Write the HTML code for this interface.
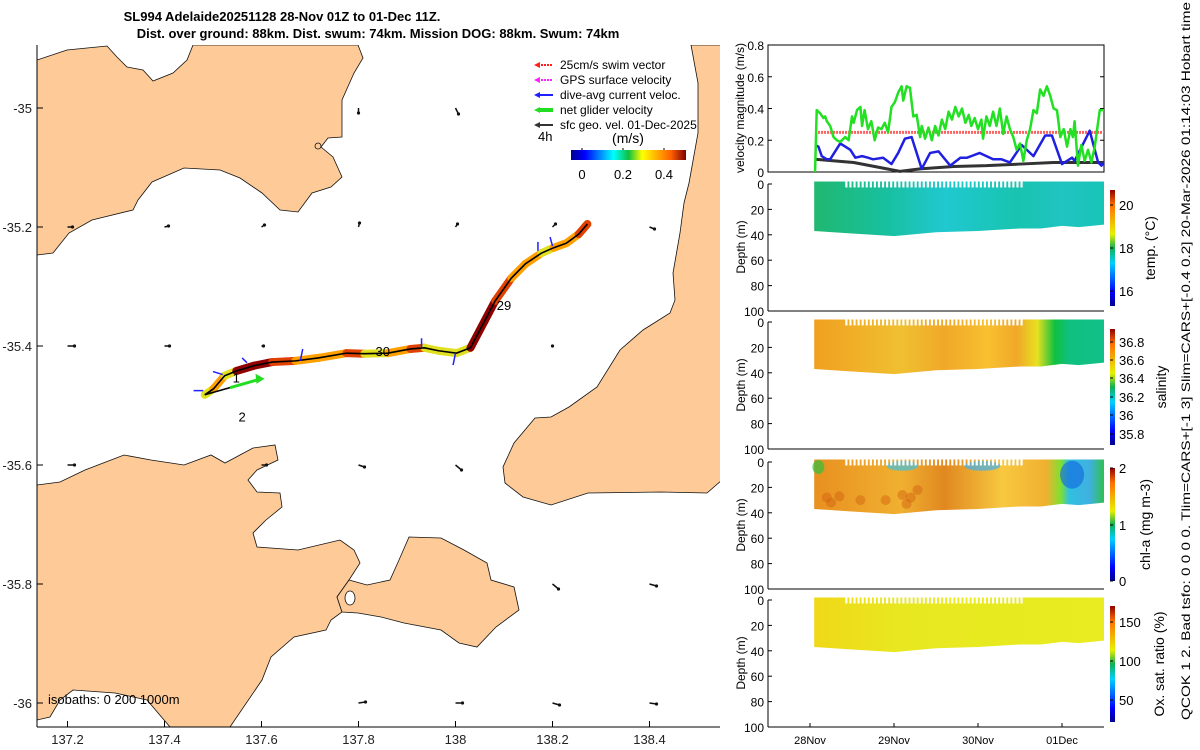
<!DOCTYPE html>
<html><head><meta charset="utf-8"><style>
html,body{margin:0;padding:0;background:#fff;}
svg{display:block;font-family:"Liberation Sans","DejaVu Sans",sans-serif;}
</style></head><body>
<svg id="s" width="1200" height="750" viewBox="0 0 1200 750" xmlns="http://www.w3.org/2000/svg">
<defs>
<linearGradient id="jetH" x1="0" x2="1" y1="0" y2="0">
<stop offset="0" stop-color="#00008f"/><stop offset="0.12" stop-color="#0000ff"/><stop offset="0.37" stop-color="#00ffff"/><stop offset="0.5" stop-color="#10c040"/><stop offset="0.62" stop-color="#ffff00"/><stop offset="0.87" stop-color="#ff6000"/><stop offset="1" stop-color="#800000"/></linearGradient>
<linearGradient id="jetV" x1="0" x2="0" y1="1" y2="0">
<stop offset="0" stop-color="#00008f"/><stop offset="0.12" stop-color="#0000ff"/><stop offset="0.37" stop-color="#00d0ff"/><stop offset="0.5" stop-color="#10b050"/><stop offset="0.62" stop-color="#e8f000"/><stop offset="0.87" stop-color="#ff7000"/><stop offset="1" stop-color="#900000"/></linearGradient>
<linearGradient id="gTemp" x1="0" x2="1"><stop offset="0" stop-color="#20b870"/><stop offset="0.25" stop-color="#18c0a0"/><stop offset="0.45" stop-color="#20c8d0"/><stop offset="0.7" stop-color="#18c4b0"/><stop offset="0.85" stop-color="#20c4c0"/><stop offset="1" stop-color="#18c4b8"/></linearGradient>
<linearGradient id="gSal" x1="0" x2="1"><stop offset="0" stop-color="#f0a020"/><stop offset="0.3" stop-color="#f0c030"/><stop offset="0.45" stop-color="#f0a828"/><stop offset="0.6" stop-color="#f8c030"/><stop offset="0.7" stop-color="#f0a828"/><stop offset="0.77" stop-color="#e8e020"/><stop offset="0.83" stop-color="#10c040"/><stop offset="0.88" stop-color="#10c080"/><stop offset="1" stop-color="#10c088"/></linearGradient>
<linearGradient id="gChl" x1="0" x2="1"><stop offset="0" stop-color="#e89020"/><stop offset="0.3" stop-color="#f0b030"/><stop offset="0.45" stop-color="#e08820"/><stop offset="0.65" stop-color="#f8c840"/><stop offset="0.8" stop-color="#f0b030"/><stop offset="0.85" stop-color="#80e030"/><stop offset="0.88" stop-color="#30c0e0"/><stop offset="0.95" stop-color="#40b0e0"/><stop offset="1" stop-color="#30c050"/></linearGradient>
<linearGradient id="gOx" x1="0" x2="1"><stop offset="0" stop-color="#f0d818"/><stop offset="0.3" stop-color="#e8e820"/><stop offset="1" stop-color="#e8ec20"/></linearGradient>
</defs>
<g id="map"></g>
<g id="right"></g>
</svg>
<script>
// ---------- DATA ----------
const trackLon=[137.483,137.501,137.524,137.548,137.585,137.622,137.670,137.717,137.775,137.812,137.860,137.907,137.936,137.965,138.002,138.031,138.060,138.082,138.115,138.144,138.177,138.202,138.229,138.254,138.272];
const trackLat=[-35.482,-35.472,-35.450,-35.442,-35.433,-35.427,-35.425,-35.420,-35.412,-35.413,-35.412,-35.405,-35.403,-35.408,-35.412,-35.403,-35.358,-35.324,-35.286,-35.262,-35.244,-35.235,-35.227,-35.212,-35.195];
const trackSpeed=[0.3,0.35,0.3,0.48,0.5,0.4,0.35,0.38,0.4,0.32,0.38,0.4,0.3,0.3,0.32,0.48,0.5,0.42,0.35,0.38,0.3,0.36,0.38,0.4,0.3];
const qLon=[137.8,138.0,137.2,137.4,137.6,137.8,138.0,138.2,138.4,137.2,137.4,137.6,138.2,137.2,137.6,137.8,138.0,138.2,138.4,137.8,138.0,138.2,138.4];
const qLat=[-35,-35,-35.2,-35.2,-35.2,-35.2,-35.2,-35.2,-35.2,-35.4,-35.4,-35.4,-35.4,-35.6,-35.6,-35.6,-35.6,-35.8,-35.8,-36,-36,-36,-36];
const qU=[0,0.03,0.05,0.04,0.03,0.01,0.02,0.03,0.05,0.07,0.05,0.02,0,0.07,0.05,0.06,0.06,0.06,0.07,0.07,0.07,0.07,0.07];
const qV=[-0.05,-0.06,0,0.01,0.02,0.04,0.03,0.03,-0.02,0,0,0,0,0,0,-0.02,-0.05,-0.05,-0.02,0.01,0,-0.02,-0.01];
const mapXTicks=[137.2,137.4,137.6,137.8,138,138.2,138.4];
const mapYTicks=[-35,-35.2,-35.4,-35.6,-35.8,-36];

const gT=[0.06,0.08,0.12,0.16,0.18,0.20,0.24,0.28,0.32,0.36,0.42,0.46,0.50,0.52,0.56,0.60,0.62,0.65,0.69,0.73,0.77,0.81,0.85,0.89,0.93,0.97,1.01,1.05,1.09,1.11,1.15,1.19,1.23,1.27,1.31,1.33,1.37,1.41,1.45,1.49,1.53,1.57,1.61,1.65,1.69,1.73,1.77,1.81,1.85,1.89,1.92,1.96,2.00,2.04,2.06,2.10,2.14,2.18,2.22,2.26,2.30,2.34,2.38,2.42,2.46,2.50,2.54,2.58,2.62,2.66,2.70,2.74,2.78,2.82,2.86,2.90,2.94,2.98,3.02,3.06,3.10,3.13,3.15,3.19,3.23,3.27,3.31,3.35,3.39,3.45,3.50];
const gV=[0,0.39,0.37,0.34,0.35,0.32,0.29,0.22,0.20,0.19,0.22,0.20,0.35,0.31,0.39,0.41,0.29,0.39,0.27,0.32,0.20,0.28,0.27,0.31,0.25,0.41,0.44,0.50,0.54,0.45,0.54,0.53,0.35,0.36,0.22,0.29,0.21,0.28,0.20,0.29,0.23,0.33,0.27,0.38,0.33,0.41,0.35,0.40,0.31,0.36,0.29,0.34,0.27,0.33,0.21,0.35,0.29,0.38,0.29,0.40,0.24,0.35,0.27,0.22,0.14,0.18,0.07,0.20,0.27,0.39,0.37,0.52,0.48,0.54,0.48,0.40,0.39,0.22,0.27,0.16,0.27,0.22,0.32,0.04,0.17,0.07,0.14,0.06,0.16,0.39,0.39];
const bT=[0.06,0.10,0.14,0.20,0.24,0.36,0.48,0.54,0.62,0.69,0.75,0.87,0.97,1.05,1.13,1.21,1.33,1.43,1.53,1.67,1.79,1.87,1.92,2.02,2.18,2.28,2.38,2.52,2.66,2.80,2.88,3.00,3.12,3.15,3.33,3.43,3.47,3.50];
const bV=[0.17,0.16,0.10,0.08,0.08,0.18,0.14,0.09,0.10,0.09,0.08,0.09,0.05,0.12,0.21,0.22,0.02,0.12,0.13,0.04,0.09,0.09,0.10,0.12,0.08,0.08,0.06,0.17,0.10,0.23,0.23,0.05,0.09,0.07,0.26,0.06,0.04,0.06];
const kT=[0.06,0.52,1.07,1.31,1.71,2.10,2.50,2.90,3.50];
const kV=[0.08,0.06,0.004,0.02,0.035,0.04,0.05,0.06,0.06];
const swimV=0.25;
const velTicks=[0,0.2,0.4,0.6,0.8];
const depthTicks=[0,20,40,60,80,100];
const dayLabels=['28Nov','29Nov','30Nov','01Dec'];
const bottomT=[0.05,0.5,1.0,1.5,2.0,2.5,2.75,3.0,3.2,3.5];
const bottomD=[37,39,41,38,37,35,35,33,34,32];

// ---------- HELPERS ----------
const NS='http://www.w3.org/2000/svg';
function el(tag,attrs,parent,text){const e=document.createElementNS(NS,tag);for(const k in attrs)e.setAttribute(k,attrs[k]);if(text!==undefined)e.textContent=text;(parent||S).appendChild(e);return e;}
const S=document.getElementById('s');
const M=document.getElementById('map');
const R=document.getElementById('right');
const mx=lon=>67.5+(lon-137.2)*485;
const my=lat=>108+(-35-lat)*595;

// ---------- TITLE ----------
let t=el('text',{x:282,y:21,'font-size':13,'font-weight':'bold','text-anchor':'middle'},S,'SL994 Adelaide20251128 28-Nov 01Z to 01-Dec 11Z.');

t=el('text',{x:378,y:38,'font-size':13,'font-weight':'bold','text-anchor':'middle'},S,'Dist. over ground: 88km. Dist. swum: 74km. Mission DOG: 88km. Swum: 74km');


// ---------- MAP ----------
el('clipPath',{id:'mc'},M);
el('rect',{x:37,y:45,width:683,height:682},document.getElementById('mc'));
const mg=el('g',{'clip-path':'url(#mc)'},M);
const land=[
 'M193,45 L358,45 363,58 354,73 342,100 342,137 328,138 321,147 333,157 342,177 331,187 312,193 298,212 280,210 262,193 240,178 220,170 184,168 152,182 138,200 133,210 92,220 69,233 53,253 37,255 37,60 67,50 107,46 117,57 127,67 143,70 153,81 173,73 187,60 Z',
 'M691,45 L698,83 698,133 689,183 684,203 680,233 673,273 675,300 670,313 643,330 620,350 597,387 569,407 551,417 535,418 514,443 503,467 505,483 523,497 551,505 588,493 661,492 707,493 722,480 722,45 Z',
 'M37,485 L60,482 85,470 124,455 151,460 184,465 211,455 225,463 253,448 275,445 278,460 257,470 248,480 257,492 280,493 282,507 266,520 253,533 257,547 298,550 340,540 354,550 360,563 349,580 337,597 342,612 331,620 326,630 294,637 271,657 262,680 230,727 170,727 147,700 115,693 73,690 60,700 50,717 37,720 Z',
 'M349,580 L367,585 390,580 399,560 409,537 441,538 464,550 487,563 491,580 514,587 519,610 496,627 477,647 459,643 441,630 404,623 381,617 358,613 342,612 337,597 Z'
];
land.forEach((d,i)=>{const p=el('path',{d:d,fill:'#fdca98',stroke:'#111','stroke-width':0.8},mg);});
el('ellipse',{cx:350,cy:598,rx:5,ry:7,fill:'#fff',stroke:'#111','stroke-width':0.8},mg);
el('ellipse',{cx:318,cy:146,rx:3,ry:3,fill:'none',stroke:'#111','stroke-width':0.8},mg);
for(let i=0;i<qLon.length;i++){
 const x0=mx(qLon[i]),y0=my(qLat[i]);const x1=x0+qU[i]*100,y1=y0-qV[i]*100;
 const a=el('line',{x1:x0,y1:y0,x2:x1,y2:y1,stroke:'#111','stroke-width':1.5},mg);
 
 el('circle',{cx:x1,cy:y1,r:1.6,fill:'#111'},mg);
}
function spdColor(v){const c=['#0000a0','#0060ff','#00d0d0','#20c040','#e0e020','#ffa000','#e04000','#900000'];const k=Math.max(0,Math.min(c.length-1,Math.round(v/0.5*(c.length-1))));return c[k];}
for(let i=0;i<trackLon.length-1;i++){
 const s=el('line',{x1:mx(trackLon[i]),y1:my(trackLat[i]),x2:mx(trackLon[i+1]),y2:my(trackLat[i+1]),stroke:spdColor(trackSpeed[i]),'stroke-width':8,'stroke-linecap':'round'},mg);
 
}
let pts=trackLon.map((l,i)=>mx(l)+','+my(trackLat[i])).join(' ');
const tl=el('polyline',{points:pts,fill:'none',stroke:'#000','stroke-width':1.6},mg);

el('line',{x1:mx(trackLon[0]),y1:my(trackLat[0]),x2:mx(137.535),y2:my(-35.47),stroke:'#000','stroke-width':1.6},mg);
const ng=el('line',{x1:mx(137.535),y1:my(-35.47),x2:mx(137.6),y2:my(-35.455),stroke:'#22dd22','stroke-width':3},mg);

el('polygon',{points:`${mx(137.6)+3},${my(-35.455)} ${mx(137.6)-6},${my(-35.455)-5} ${mx(137.6)-5},${my(-35.455)+5}`,fill:'#22dd22'},mg);
[[137.48,-35.475,-0.02,0],[137.52,-35.448,-0.02,0.005],[137.68,-35.425,0.005,0.02],[137.93,-35.402,0,0.015],[138.0,-35.412,-0.005,-0.02],[138.2,-35.232,-0.005,0.015],[138.17,-35.24,0,0.015],[137.57,-35.428,-0.01,0.008]].forEach(v=>{
 const d=el('line',{x1:mx(v[0]),y1:my(v[1]),x2:mx(v[0]+v[2]),y2:my(v[1]+v[3]),stroke:'#2020ff','stroke-width':1.5},mg);
 
});
[['29',138.1,-35.333],['30',137.85,-35.41],['2',137.56,-35.52],['1',137.548,-35.455]].forEach(l=>{
 const x=el('text',{x:mx(l[1]),y:my(l[2])+4,'font-size':13,'text-anchor':'middle'},mg,l[0]);
 
});
t=el('text',{x:48,y:704,'font-size':13},mg,'isobaths: 0   200  1000m');
el('line',{x1:37,y1:45,x2:37,y2:727,stroke:'#000'},M);
el('line',{x1:37,y1:727,x2:720,y2:727,stroke:'#000'},M);
mapXTicks.forEach(v=>{el('line',{x1:mx(v),y1:727,x2:mx(v),y2:721,stroke:'#000'},M);
 const x=el('text',{x:mx(v),y:744,'font-size':13,'text-anchor':'middle',fill:'#222'},M,String(v));});
mapYTicks.forEach(v=>{el('line',{x1:37,y1:my(v),x2:43,y2:my(v),stroke:'#000'},M);
 const x=el('text',{x:32,y:my(v)+5,'font-size':13,'text-anchor':'end',fill:'#222'},M,String(v));});
const leg=[['25cm/s swim vector','#ff2020',2],['GPS surface velocity','#ff20ff',2],['dive-avg current veloc.','#2020ff',2],['net glider velocity','#22dd22',4],['sfc geo. vel. 01-Dec-2025','#333',2]];
leg.forEach((l,i)=>{const y=62+i*15;
 const g=el('g',{},M);
 el('line',{x1:538,y1:y+3,x2:553,y2:y+3,stroke:l[1],'stroke-width':l[2],'stroke-dasharray':i<2?'2 1':'none'},g);
 el('polygon',{points:`534,${y+3} 540,${y} 540,${y+6}`,fill:l[1]},g);
 el('text',{x:560,y:y+7,'font-size':12},g,l[0]);});
el('text',{x:538,y:141,'font-size':13},M,'4h');
el('text',{x:628,y:143,'font-size':14,'text-anchor':'middle'},M,'(m/s)');
const cb=el('rect',{x:571,y:150,width:115,height:10,fill:'url(#jetH)'},M);
[['0',582],['0.2',623],['0.4',664]].forEach(k=>{el('line',{x1:k[1],y1:150,x2:k[1],y2:148,stroke:'#000'},M);el('text',{x:k[1],y:179,'font-size':13,'text-anchor':'middle'},M,k[0]);});

// ---------- RIGHT PANELS ----------
const X0=768,X1=1104;
const tx=d=>810+d*84;
const vy=v=>172-v*158.75;
el('rect',{x:X0,y:45,width:X1-X0,height:127,fill:'none',stroke:'#000'},R);
velTicks.forEach(v=>{el('line',{x1:X0,y1:vy(v),x2:X0+4,y2:vy(v),stroke:'#000'},R);el('line',{x1:X1,y1:vy(v),x2:X1-4,y2:vy(v),stroke:'#000'},R);
 const x=el('text',{x:X0-4,y:vy(v)+5,'font-size':12,'text-anchor':'end'},R,String(v));});
function line(T,V,col,w,name,dash){const p=el('polyline',{points:T.map((d,i)=>tx(d)+','+vy(V[i])).join(' '),fill:'none',stroke:col,'stroke-width':w,'stroke-dasharray':dash||'none','stroke-linejoin':'round'},R);}
line([gT[0],gT[gT.length-1]],[swimV,swimV],'#ff6060',3,'swim-speed-line','2 1');
line(kT,kV,'#333',3,'sfc-geo-velocity-line');
line(bT,bV,'#2020e0',2.5,'dive-avg-current-line');
line(gT,gV,'#22e022',2.5,'net-glider-velocity-line');
t=el('text',{transform:'translate(744,108) rotate(-90)','font-size':12,'text-anchor':'middle'},R,'velocity magnitude (m/s)');

const panels=[
 {top:184,grad:'gTemp',name:'temperature',label:'temp. (°C)',lx:1155,cTop:190,cBot:306,ticks:[['20',205],['18',248],['16',291]]},
 {top:322,grad:'gSal',name:'salinity',label:'salinity',lx:1166,cTop:329,cBot:445,ticks:[['36.8',342],['36.6',360],['36.4',378],['36.2',397],['36',415],['35.8',434]]},
 {top:462,grad:'gChl',name:'chlorophyll',label:'chl-a (mg m-3)',lx:1150,cTop:468,cBot:581,ticks:[['2',468],['1',525],['0',581]]},
 {top:600,grad:'gOx',name:'oxygen',label:'Ox. sat. ratio (%)',lx:1164,cTop:606,cBot:722,ticks:[['150',622],['100',661],['50',700]]}
];
panels.forEach((P,pi)=>{
 const dy=d=>P.top+d*1.27;
 const g=el('g',{},R);
 let d='M'+tx(bottomT[0])+','+dy(-2)+' L'+tx(bottomT[bottomT.length-1])+','+dy(-2);
 for(let i=bottomT.length-1;i>=0;i--)d+=' L'+tx(bottomT[i])+','+dy(bottomD[i]);
 d+=' Z';
 el('path',{d:d,fill:'url(#'+P.grad+')'},g);
 if(pi===2){[[0.2,28],[0.35,27],[1.1,26],[1.2,28],[1.28,22],[0.6,30],[0.25,32],[1.15,33],[0.9,30]].forEach(c=>el('circle',{cx:tx(c[0]),cy:dy(c[1]),r:5,fill:'#d06010','opacity':0.45},g));
  el('ellipse',{cx:tx(1.1),cy:dy(3),rx:16,ry:5,fill:'#40c0e0',opacity:0.7},g);el('ellipse',{cx:tx(2.05),cy:dy(3),rx:18,ry:5,fill:'#40b0f0',opacity:0.7},g);el('ellipse',{cx:tx(0.1),cy:dy(4),rx:6,ry:7,fill:'#30c040',opacity:0.7},g);el('ellipse',{cx:tx(3.12),cy:dy(10),rx:12,ry:14,fill:'#1060e0',opacity:0.6},g);}
 for(let k=0;k<44;k++){const xx=tx(0.42+k*0.0485);if(xx>1022)break;el('rect',{x:xx,y:dy(-2),width:2.2,height:6,fill:'#fff'},g);}
 el('line',{x1:X0,y1:P.top,x2:X0,y2:P.top+127,stroke:'#000'},R);
 el('line',{x1:X0,y1:P.top+127,x2:X1,y2:P.top+127,stroke:'#000'},R);
 depthTicks.forEach(v=>{el('line',{x1:X0,y1:dy(v),x2:X0+4,y2:dy(v),stroke:'#000'},R);
  const x=el('text',{x:X0-4,y:dy(v)+5,'font-size':12,'text-anchor':'end'},R,String(v));});
 t=el('text',{transform:`translate(745,${P.top+63}) rotate(-90)`,'font-size':12,'text-anchor':'middle'},R,'Depth (m)');
 const c=el('rect',{x:1110,y:P.cTop,width:5,height:P.cBot-P.cTop,fill:'url(#jetV)'},R);
 P.ticks.forEach(k=>{el('line',{x1:1110,y1:k[1],x2:1113,y2:k[1],stroke:'#000'},R);el('text',{x:1119,y:k[1]+5,'font-size':13},R,k[0]);});
 t=el('text',{transform:`translate(${P.lx},${(P.cTop+P.cBot)/2}) rotate(-90)`,'font-size':14,'text-anchor':'middle'},R,P.label);
});
dayLabels.forEach((l,i)=>{el('line',{x1:tx(i),y1:727,x2:tx(i),y2:723,stroke:'#000'},R);
 const x=el('text',{x:tx(i),y:744,'font-size':11,'text-anchor':'middle'},R,l);});
t=el('text',{transform:'translate(1190,720) rotate(-90)','font-size':12,textLength:718,lengthAdjust:'spacingAndGlyphs'},S,'QCOK 1 2. Bad tsfo: 0 0 0 0. Tlim=CARS+[-1 3] Slim=CARS+[-0.4 0.2] 20-Mar-2026 01:14:03 Hobart time');

</script>
</body></html>
